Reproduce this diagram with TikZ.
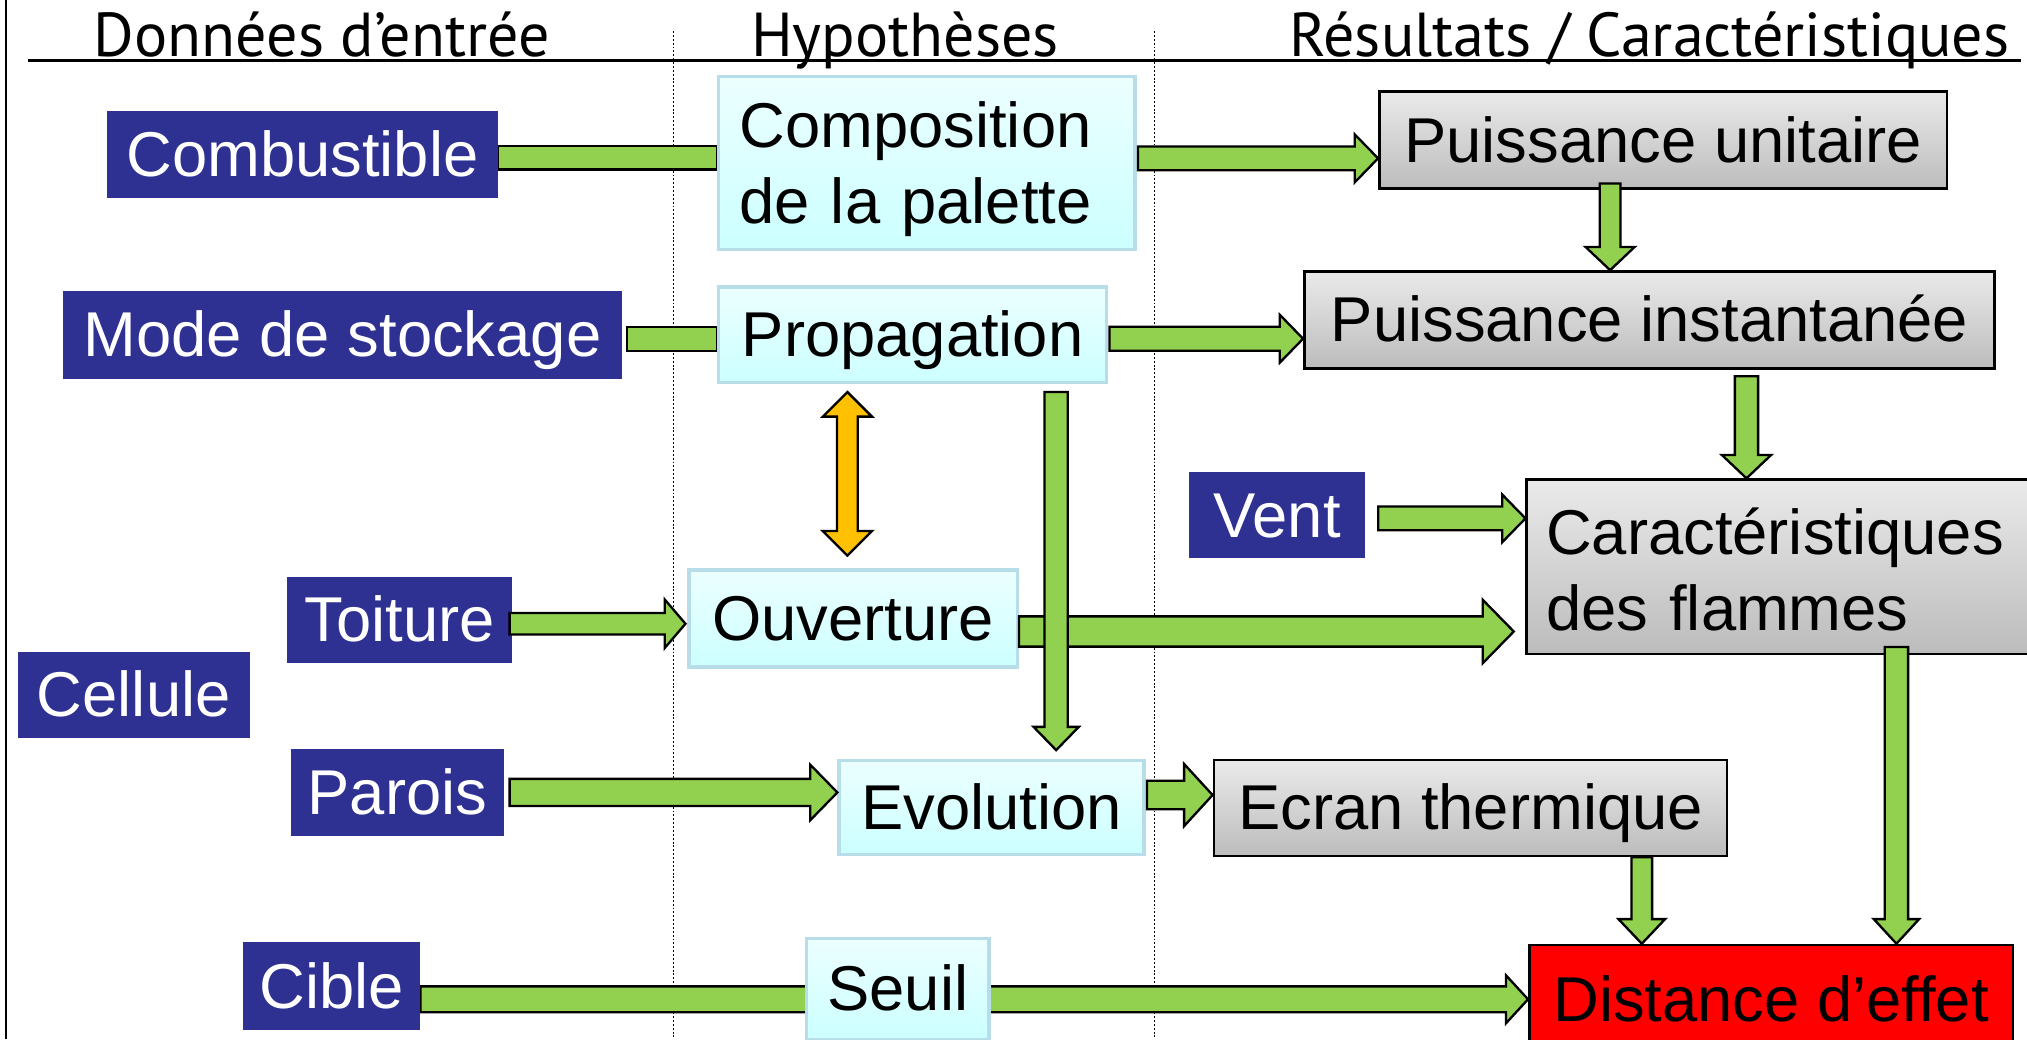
\documentclass[tikz,border=0pt]{standalone}
\usepackage{fontspec}
\setmainfont{Liberation Sans}
\newfontfamily\headfont{PT Sans}
\usetikzlibrary{calc,backgrounds}

\definecolor{navy}{RGB}{46,49,146}
\definecolor{arrgreen}{RGB}{146,208,80}
\definecolor{arrorange}{RGB}{255,192,0}
\definecolor{cyanTop}{RGB}{236,255,255}
\definecolor{cyanBot}{RGB}{204,255,255}
\definecolor{cyanEdge}{RGB}{183,222,232}
\definecolor{grayTop}{RGB}{234,234,234}
\definecolor{grayBot}{RGB}{188,188,188}

\tikzset{
  every node/.style={font=\fontsize{49}{59}\selectfont, inner sep=0pt,
    text height=44.3pt, text depth=10.4pt},
  twolines/.style={align=left, text height=, text depth=},
  databox/.style={rectangle, fill=navy, text=white},
  hypbox/.style={rectangle, draw=cyanEdge, line width=2.5pt, top color=cyanTop, bottom color=cyanBot},
  resbox/.style={rectangle, draw=black, line width=2pt, top color=grayTop, bottom color=grayBot},
  effbox/.style={rectangle, draw=black, line width=2pt, fill=red},
  headtxt/.style={font=\headfont\fontsize{48}{52}\selectfont, anchor=base,
    text height=, text depth=},
  greenflow/.style={draw=black, fill=arrgreen, line width=1.8pt, line join=miter},
  orangeflow/.style={draw=black, fill=arrorange, line width=1.8pt, line join=miter},
  colsep/.style={line width=1.3pt, dash pattern=on 1.5pt off 1.5pt},
}

% block arrow pointing right: #1 tail, #2 point giving the tip x,
% #3 shaft half width, #4 head half width, #5 head length, #6 style
\newcommand\flowright[6]{%
  \coordinate (tl) at #1;
  \coordinate (tx) at #2;
  \coordinate (tp) at (tx |- tl);
  \draw[#6] ($(tl)+(0,-#3)$) -- ($(tp)+(-#5,-#3)$) -- ($(tp)+(-#5,-#4)$) -- (tp)
    -- ($(tp)+(-#5,#4)$) -- ($(tp)+(-#5,#3)$) -- ($(tl)+(0,#3)$) -- cycle;
}
% block arrow pointing down (y grows downwards in this picture)
\newcommand\flowdown[6]{%
  \coordinate (tl) at #1;
  \coordinate (ty) at #2;
  \coordinate (tp) at (tl |- ty);
  \draw[#6] ($(tl)+(-#3,0)$) -- ($(tp)+(-#3,-#5)$) -- ($(tp)+(-#4,-#5)$) -- (tp)
    -- ($(tp)+(#4,-#5)$) -- ($(tp)+(#3,-#5)$) -- ($(tl)+(#3,0)$) -- cycle;
}
% vertical block arrow with a head at both ends: #1 upper tip, #2 point giving lower tip y
\newcommand\flowboth[6]{%
  \coordinate (ta) at #1;
  \coordinate (ty) at #2;
  \coordinate (tb) at (ta |- ty);
  \draw[#6] (ta) -- ($(ta)+(#4,#5)$) -- ($(ta)+(#3,#5)$) -- ($(tb)+(#3,-#5)$)
    -- ($(tb)+(#4,-#5)$) -- (tb) -- ($(tb)+(-#4,-#5)$) -- ($(tb)+(-#3,-#5)$)
    -- ($(ta)+(-#3,#5)$) -- ($(ta)+(-#4,#5)$) -- cycle;
}
% plain horizontal bar without head
\newcommand\flowbar[4]{%
  \coordinate (tl) at #1;
  \coordinate (tx) at #2;
  \coordinate (tp) at (tx |- tl);
  \draw[#4] ($(tl)+(0,-#3)$) rectangle ($(tp)+(0,#3)$);
}

\begin{document}
\begin{tikzpicture}[x=1pt, y=-1pt]
\useasboundingbox (0,0) rectangle (1568,804);

% frame and column headings
\draw[line width=1.5pt] (5,0) -- (5,804);
\node[headtxt] (h1) at (249,44) {Données d’entrée};
\node[headtxt] (h2) at (700,44) {Hypothèses};
\node[headtxt] (h3) at (1276,44) {Résultats / Caractéristiques};
\draw[line width=2pt] (22,47) -- (1563,47);

% input data
\node[databox, minimum width=302pt, minimum height=67pt] (comb) at (234,119.5) {Combustible};
\node[databox, minimum width=432pt, minimum height=68pt] (mode) at (265,259) {Mode de stockage};
\node[databox, minimum width=136pt, minimum height=67pt] (vent) at (988,398.5) {Vent};
\node[databox, minimum width=174pt, minimum height=67pt] (toit) at (309,479.5) {Toiture};
\node[databox, minimum width=179pt, minimum height=67pt] (cell) at (103.5,537.5) {Cellule};
\node[databox, minimum width=165pt, minimum height=68pt] (parois) at (307.5,613) {Parois};
\node[databox, minimum width=137pt, minimum height=68pt] (cible) at (256.5,763) {Cible};

% hypotheses
\node[hypbox, twolines, minimum height=134pt, text width=290pt, inner xsep=16pt, text depth=59.4pt] (comp) at (717,126) {Composition\\de la palette};
\node[hypbox, minimum width=300pt, minimum height=74pt] (prop) at (706,259) {Propagation};
\node[hypbox, minimum width=254pt, minimum height=75pt] (ouv) at (660,478.5) {Ouverture};
\node[hypbox, minimum width=236pt, minimum height=73pt] (evol) at (767,624.5) {Evolution};
\node[hypbox, minimum width=141pt, minimum height=78pt] (seuil) at (694.5,765) {Seuil};

% results
\node[resbox, minimum width=439pt, minimum height=75pt] (pu) at (1286.5,108.5) {Puissance unitaire};
\node[resbox, minimum width=534pt, minimum height=75pt] (pi) at (1276,247.5) {Puissance instantanée};
\node[resbox, twolines, minimum height=135pt, text width=370pt, inner xsep=15pt, text depth=55pt] (car) at (1381,438.5) {Caractéristiques\\des flammes};
\node[resbox, minimum width=397pt, minimum height=74pt] (ecran) at (1137.5,625) {Ecran thermique};
\node[effbox, minimum width=374pt, minimum height=84pt] (dist) at (1370,773) {Distance d’effet};

% column separators and links passing under the boxes
\begin{scope}[on background layer]
  \draw[colsep] (521,24) -- (521,804);
  \draw[colsep] (893,24) -- (893,804);
  \flowbar{($(comb.east)+(0,2.5)$)}{(comp.west)}{9}{greenflow}
  \flowbar{($(mode.east)+(4,3)$)}{(prop.west)}{9.3}{greenflow}
  \flowright{($(cible.east)+(0,10)$)}{(dist.west)}{10}{18.5}{17}{greenflow}
\end{scope}

% links
\flowright{($(comp.east)+(1,-3.5)$)}{(pu.west)}{9.2}{18.5}{18}{greenflow}
\flowdown{($(pu.south)+(-41,-5)$)}{(pi.north)}{8}{19}{18}{greenflow}
\flowright{($(prop.east)+(1,3)$)}{(pi.west)}{9.3}{18.5}{18}{greenflow}
\flowdown{($(pi.south)+(75,5)$)}{(car.north)}{9}{19}{18}{greenflow}
\flowright{($(vent.east)+(10,2.5)$)}{(car.west)}{9.2}{18.5}{18}{greenflow}
\flowboth{($(prop.south)+(-50.5,6)$)}{($(ouv.north)+(0,-10)$)}{8}{19}{19}{orangeflow}
\flowright{($(toit.east)+(-2,3)$)}{($(ouv.west)+(-1.5,0)$)}{8.3}{18.7}{16}{greenflow}
\flowright{($(ouv.east)+(0,10)$)}{($(car.west)+(-9,0)$)}{11.7}{24.5}{24}{greenflow}
\flowdown{($(prop.south)+(111,6)$)}{($(evol.north)+(0,-6.5)$)}{9}{17.5}{18}{greenflow}
\flowright{($(parois.east)+(4,0)$)}{(evol.west)}{10.5}{21.5}{21}{greenflow}
\flowright{($(evol.east)+(1,-9.5)$)}{(ecran.west)}{11}{24}{22}{greenflow}
\flowdown{($(ecran.south)+(132.5,0)$)}{(dist.north)}{8}{18}{19}{greenflow}
\flowdown{($(car.south)+(86,-6.5)$)}{(dist.north)}{9}{17.5}{19}{greenflow}
\end{tikzpicture}
\end{document}
